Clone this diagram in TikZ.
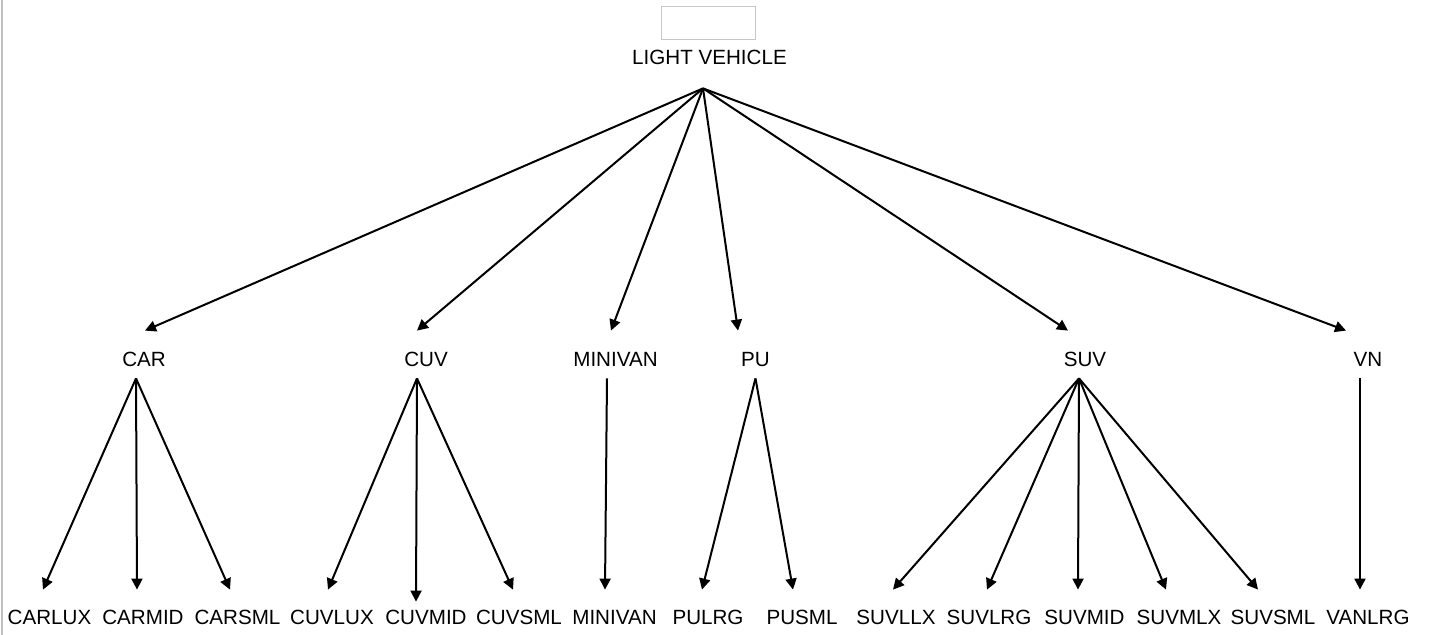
\documentclass[tikz,border=0pt]{standalone}
\usepackage{fontspec}
\setmainfont{Liberation Sans}
\usetikzlibrary{arrows.meta}

\begin{document}
\begin{tikzpicture}[x=0.5pt,y=-0.5pt]
  \tikzset{label/.style = {draw=none,inner xsep=0pt,inner ysep=0pt,anchor=base,font=\fontsize{10.3}{12}\selectfont}}
  \tikzset{top/.style = {label,text height=8pt,text depth=11.75pt}}
  \tikzset{mid/.style = {label,text height=17.75pt,text depth=5.75pt}}
  \tikzset{leaf/.style = {label,text height=17.25pt,text depth=0pt}}
  \tikzset{arr/.style = {-{Triangle[length=5.5pt,width=5.5pt]},line width=1pt}}

\useasboundingbox (0,0) rectangle (1432,635);
\draw[black!25,line width=0.8pt] (2,0) -- (2,635);

\node[draw=black!22,line width=0.6pt,minimum width=47pt,minimum height=16.5pt,inner sep=0pt] (blank) at (708.5,22.7) {};
\node[top] (root) at (709.5,64.5) {LIGHT VEHICLE};

\node[mid] (car)     at (144,366.5)  {CAR};
\node[mid] (cuv)     at (426,366.5)  {CUV};
\node[mid] (minivan) at (615.5,366.5) {MINIVAN};
\node[mid] (pu)      at (755.5,366.5) {PU};
\node[mid] (suv)     at (1085,366.5) {SUV};
\node[mid] (vn)      at (1368,366.5) {VN};

\node[leaf] (carlux)   at (49.5,624.5)  {CARLUX};
\node[leaf] (carmid)   at (143,624.5)   {CARMID};
\node[leaf] (carsml)   at (237.5,624.5) {CARSML};
\node[leaf] (cuvlux)   at (332,624.5)   {CUVLUX};
\node[leaf] (cuvmid)   at (426,624.5)   {CUVMID};
\node[leaf] (cuvsml)   at (519,624.5)   {CUVSML};
\node[leaf] (minivanl) at (614.5,624.5) {MINIVAN};
\node[leaf] (pulrg)    at (708,624.5)   {PULRG};
\node[leaf] (pusml)    at (802,624.5)   {PUSML};
\node[leaf] (suvllx)   at (896,624.5)   {SUVLLX};
\node[leaf] (suvlrg)   at (989,624.5)   {SUVLRG};
\node[leaf] (suvmid)   at (1084.5,624.5) {SUVMID};
\node[leaf] (suvmlx)   at (1179,624.5)  {SUVMLX};
\node[leaf] (suvsml)   at (1273,624.5)  {SUVSML};
\node[leaf] (vanlrg)   at (1368,624.5)  {VANLRG};

  % light vehicle -> classes
  \draw[arr] ([xshift=-3.25pt]root.south) -- ([xshift=0.5pt]car.north);
  \draw[arr] ([xshift=-3.25pt]root.south) -- ([xshift=-4.5pt]cuv.north);
  \draw[arr] ([xshift=-3.25pt]root.south) -- ([xshift=-2.25pt]minivan.north);
  \draw[arr] ([xshift=-3.25pt]root.south) -- ([xshift=-8.75pt]pu.north);
  \draw[arr] ([xshift=-3.25pt]root.south) -- ([xshift=-8.5pt]suv.north);
  \draw[arr] ([xshift=-3.25pt]root.south) -- ([xshift=-11pt]vn.north);

  % classes -> sizes
  \draw[arr] ([xshift=-4pt]car.south) -- ([xshift=-3.25pt]carlux.north);
  \draw[arr] ([xshift=-4pt]car.south) -- ([xshift=-3pt]carmid.north);
  \draw[arr] ([xshift=-4pt]car.south) -- ([xshift=-3.75pt]carsml.north);

  \draw[arr] ([xshift=-4.5pt]cuv.south) -- ([xshift=-2pt]cuvlux.north);
  \draw[arr] ([xshift=-4.5pt]cuv.south) -- ([xshift=-5pt,yshift=-6pt]cuvmid.north);
  \draw[arr] ([xshift=-4.5pt]cuv.south) -- ([xshift=-3pt]cuvsml.north);

  \draw[arr] ([xshift=-4.25pt]minivan.south) -- ([xshift=-4.75pt]minivanl.north);

  \draw[arr] (pu.south) -- ([xshift=-3pt]pulrg.north);
  \draw[arr] (pu.south) -- ([xshift=-4.5pt]pusml.north);

  \draw[arr] ([xshift=-3pt]suv.south) -- ([xshift=-1.5pt]suvllx.north);
  \draw[arr] ([xshift=-3pt]suv.south) -- ([xshift=-1pt]suvlrg.north);
  \draw[arr] ([xshift=-3pt]suv.south) -- ([xshift=-3.25pt]suvmid.north);
  \draw[arr] ([xshift=-3pt]suv.south) -- ([xshift=-6.5pt]suvmlx.north);
  \draw[arr] ([xshift=-3pt]suv.south) -- ([xshift=-7.5pt]suvsml.north);

  \draw[arr] ([xshift=-4pt]vn.south) -- ([xshift=-4pt]vanlrg.north);

\end{tikzpicture}
\end{document}
